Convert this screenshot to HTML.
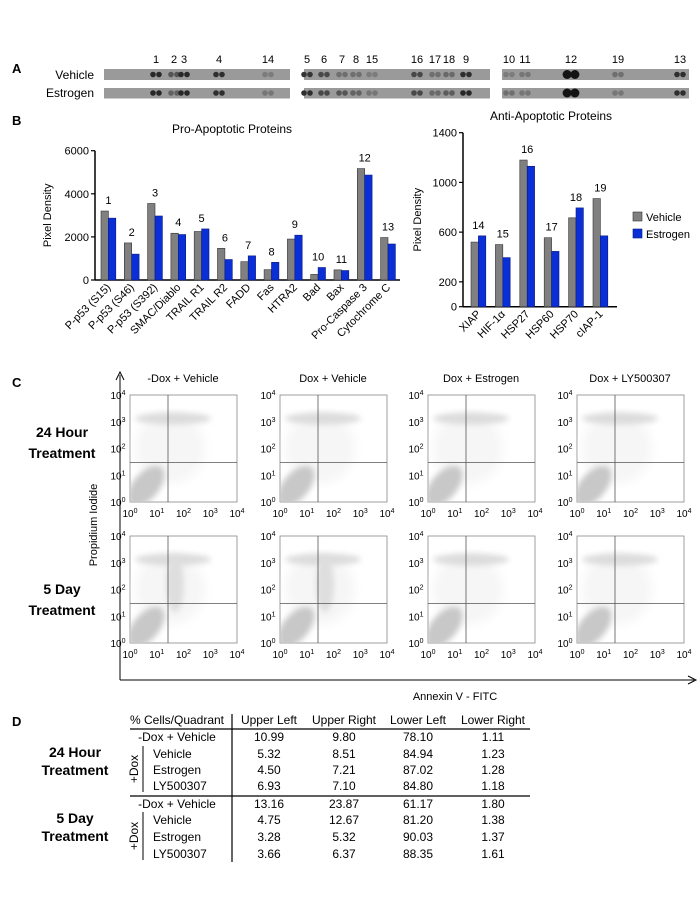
<!DOCTYPE html>
<html><head><meta charset="utf-8"><style>
body{margin:0;background:#fff}
svg{display:block;font-family:"Liberation Sans",Arial,sans-serif}
</style></head><body>
<svg id="fig" width="700" height="906" viewBox="0 0 700 906" xmlns="http://www.w3.org/2000/svg">
<defs>
<filter id="blur3" x="-50%" y="-50%" width="200%" height="200%"><feGaussianBlur stdDeviation="3"/></filter>
<filter id="blur5" x="-50%" y="-50%" width="200%" height="200%"><feGaussianBlur stdDeviation="5"/></filter>
</defs>
<g font-weight="bold" font-size="13">
<text x="12" y="73">A</text>
<text x="12" y="125">B</text>
<text x="12" y="387">C</text>
<text x="12" y="726">D</text>
</g>
<g id="panelA"></g>
<g id="chartL"></g>
<g id="chartR"></g>
<g id="flow"></g>
<g id="table"></g>
</svg>
<script>
const NS="http://www.w3.org/2000/svg";
function el(tag,attrs,parent,txt){const e=document.createElementNS(NS,tag);for(const k in attrs)e.setAttribute(k,attrs[k]);if(txt!==undefined)e.textContent=txt;parent.appendChild(e);return e;}

// ---------- Panel B data ----------
const proCats=["P-p53 (S15)","P-p53 (S46)","P-p53 (S392)","SMAC/Diablo","TRAIL R1","TRAIL R2","FADD","Fas","HTRA2","Bad","Bax","Pro-Caspase 3","Cytochrome C"];
const proNums=["1","2","3","4","5","6","7","8","9","10","11","12","13"];
const proVehicle=[3200,1720,3550,2170,2250,1470,850,480,1900,260,470,5170,1970];
const proEstrogen=[2870,1200,2970,2110,2370,950,1120,820,2080,580,440,4870,1670];
const proTicks=[0,2000,4000,6000];
const antiCats=["XIAP","HIF-1\u03b1","HSP27","HSP60","HSP70","cIAP-1"];
const antiNums=["14","15","16","17","18","19"];
const antiVehicle=[520,500,1180,555,715,870];
const antiEstrogen=[570,395,1130,445,795,570];
const antiTicks=[0,200,600,1000,1400];

function barChart(g,cfg){
  const {x0,x1,yTop,yBot,max,cats,nums,v,e,ticks,first,step,bw,title,titleX}=cfg;
  const y=val=>yBot-(val/max)*(yBot-yTop);
  el("text",{x:titleX,y:cfg.titleY,"font-size":"12","text-anchor":"middle",},g,title);
  el("line",{x1:x0,y1:yTop,x2:x0,y2:yBot,stroke:"#000","stroke-width":"1.5"},g);
  el("line",{x1:x0,y1:yBot,x2:x1,y2:yBot,stroke:"#000","stroke-width":"1.5"},g);
  ticks.forEach(t=>{
    el("line",{x1:x0-4,y1:y(t),x2:x0,y2:y(t),stroke:"#000","stroke-width":"1.2"},g);
    const tl=el("text",{x:x0-6,y:y(t)+4,"font-size":"11","text-anchor":"end"},g,String(t));
    
    
  });
  const yl=el("text",{transform:`translate(${cfg.ylabX},${(yTop+yBot)/2}) rotate(-90)`,"font-size":"11","text-anchor":"middle"},g,"Pixel Density");
  
  
  cats.forEach((c,i)=>{
    const bx=first+i*step;
    const r1=el("rect",{x:bx,y:y(v[i]),width:bw,height:yBot-y(v[i]),fill:"#808080",stroke:"#333","stroke-width":"0.6"},g);
    
    
    const r2=el("rect",{x:bx+bw,y:y(e[i]),width:bw,height:yBot-y(e[i]),fill:"#0a2fd6",stroke:"#0a1a80","stroke-width":"0.6"},g);
    
    
    const top=Math.min(y(v[i]),y(e[i]));
    const nl=el("text",{x:bx+bw,y:top-7,"font-size":"11","text-anchor":"middle"},g,nums[i]);
    
    
    const cx=bx+bw+3, cy=yBot+8;
    const cl=el("text",{transform:`translate(${cx},${cy}) rotate(-45)`,"font-size":"11","text-anchor":"end"},g,c);
    
    
  });
}
barChart(document.getElementById("chartL"),{x0:95,x1:400,yTop:150.7,yBot:280,max:6000,cats:proCats,nums:proNums,v:proVehicle,e:proEstrogen,ticks:proTicks,first:101,step:23.3,bw:7.4,title:"Pro-Apoptotic Proteins",titleX:232,titleY:133,ylabX:51});
barChart(document.getElementById("chartR"),{x0:463,x1:617,yTop:132.7,yBot:306.7,max:1400,cats:antiCats,nums:antiNums,v:antiVehicle,e:antiEstrogen,ticks:antiTicks,first:471,step:24.4,bw:7.4,title:"Anti-Apoptotic Proteins",titleX:551,titleY:120,ylabX:421});
(function(){const g=document.getElementById("chartR");
const l1=el("rect",{x:633,y:212,width:9,height:9,fill:"#808080",stroke:"#333","stroke-width":"0.6"},g);

el("text",{x:646,y:221,"font-size":"11",},g,"Vehicle");
const l2=el("rect",{x:633,y:229,width:9,height:9,fill:"#0a2fd6",stroke:"#0a1a80","stroke-width":"0.6"},g);

el("text",{x:646,y:238,"font-size":"11",},g,"Estrogen");
})();

// ---------- Panel A ----------
const blotNums=["1","2","3","4","14","5","6","7","8","15","16","17","18","9","10","11","12","19","13"];
const blotX=[156,174,184,219,268,307,324,342,356,372,417,435,449,466,509,525,571,618,680];
const blotDarkV=[0.85,0.5,0.85,0.8,0.2,0.75,0.6,0.3,0.3,0.2,0.6,0.3,0.35,0.8,0.2,0.25,1,0.3,0.8];
const blotDarkE=[0.85,0.4,0.85,0.8,0.25,0.8,0.6,0.5,0.4,0.25,0.6,0.35,0.45,0.85,0.3,0.25,1,0.25,0.8];
(function(){const g=document.getElementById("panelA");
el("text",{x:94,y:79,"font-size":"12","text-anchor":"end"},g,"Vehicle");
el("text",{x:94,y:97,"font-size":"12","text-anchor":"end"},g,"Estrogen");
[[104,290],[304,490],[502,689]].forEach(s=>{
  [[69,11],[88,10.5]].forEach(r=>{const st=el("rect",{x:s[0],y:r[0],width:s[1]-s[0],height:r[1],fill:"#9a9a9a"},g);
  });
});
blotX.forEach((x,i)=>{
  el("text",{x:x,y:63,"font-size":"11","text-anchor":"middle"},g,blotNums[i]);
  const big=blotNums[i]==="12";
  [[74.5,blotDarkV[i]],[93,blotDarkE[i]]].forEach(r=>{
    const c=Math.round(150-130*r[1]);
    [-3,3].forEach(dx=>{
      const d=el("circle",{cx:x+(big?dx*1.3:dx),cy:r[0],r:big?4.5:2.8,fill:`rgb(${c},${c},${c})`},g);
      
    });
  });
});
})();

// ---------- Panel C ----------
const flowCols=["-Dox + Vehicle","Dox + Vehicle","Dox + Estrogen","Dox + LY500307"];
const flowX=[130,280,428,577];
const flowRowsY=[395,536];
(function(){const g=document.getElementById("flow");
el("line",{x1:120,y1:375,x2:120,y2:680,stroke:"#000","stroke-width":"1"},g);
el("path",{d:"M116,380 L120,372 L124,380",fill:"none",stroke:"#000"},g);
el("line",{x1:120,y1:680,x2:694,y2:680,stroke:"#000","stroke-width":"1"},g);
el("path",{d:"M688,676 L696,680 L688,684",fill:"none",stroke:"#000"},g);
el("text",{x:455,y:700,"font-size":"11","text-anchor":"middle",},g,"Annexin V - FITC");
el("text",{transform:"translate(97,525) rotate(-90)","font-size":"11","text-anchor":"middle",},g,"Propidium Iodide");
[["24 Hour",437],["Treatment",458],["5 Day",594],["Treatment",615]].forEach(t=>el("text",{x:62,y:t[1],"font-size":"14","font-weight":"bold","text-anchor":"middle"},g,t[0]));
flowCols.forEach((c,i)=>el("text",{x:flowX[i]+53,y:382,"font-size":"11","text-anchor":"middle"},g,c));
const w=107,h=107;
flowRowsY.forEach((y0,ri)=>flowX.forEach((x0,ci)=>{
  const p=el("g",{},g);
  
  
  el("rect",{x:x0,y:y0,width:w,height:h,fill:"#fff",stroke:"#888","stroke-width":"0.8"},p);
  const cp="clip"+ri+ci;
  const cl=el("clipPath",{id:cp},p);el("rect",{x:x0,y:y0,width:w,height:h},cl);
  const dots=el("g",{"clip-path":`url(#${cp})`},p);
  el("ellipse",{cx:x0+40,cy:y0+h*0.5,rx:35,ry:35,fill:"#f6f6f6",filter:"url(#blur5)"},dots);
  el("ellipse",{cx:x0+43,cy:y0+h*0.22,rx:38,ry:6,fill:"#dcdcdc",filter:"url(#blur3)"},dots);
  if(ri===1&&ci<2) el("ellipse",{cx:x0+45,cy:y0+h*0.45,rx:9,ry:28,fill:"#dedede",filter:"url(#blur3)"},dots);
  el("ellipse",{cx:x0+16,cy:y0+h-16,rx:13,ry:24,fill:"#c8c8c8",filter:"url(#blur3)",transform:`rotate(40 ${x0+16} ${y0+h-16})`},dots);
  el("line",{x1:x0+38,y1:y0,x2:x0+38,y2:y0+h,stroke:"#555","stroke-width":"0.8"},p);
  el("line",{x1:x0,y1:y0+h*0.63,x2:x0+w,y2:y0+h*0.63,stroke:"#555","stroke-width":"0.8"},p);
  for(let k=0;k<=4;k++){
    const yt=y0+h-k*h/4;
    const t=el("text",{x:x0-12,y:yt+4,"font-size":"10","text-anchor":"middle"},p);
    el("tspan",{},t,"10");el("tspan",{dy:"-4","font-size":"7"},t,String(k));
    const xt=x0+k*w/4;
    const t2=el("text",{x:xt,y:y0+h+15,"font-size":"10","text-anchor":"middle"},p);
    el("tspan",{},t2,"10");el("tspan",{dy:"-4","font-size":"7"},t2,String(k));
  }
}));
})();

// ---------- Panel D ----------
const tHead=["% Cells/Quadrant","Upper Left","Upper Right","Lower Left","Lower Right"];
const tLabels=["-Dox + Vehicle","Vehicle","Estrogen","LY500307","-Dox + Vehicle","Vehicle","Estrogen","LY500307"];
const tUL=["10.99","5.32","4.50","6.93","13.16","4.75","3.28","3.66"];
const tUR=["9.80","8.51","7.21","7.10","23.87","12.67","5.32","6.37"];
const tLL=["78.10","84.94","87.02","84.80","61.17","81.20","90.03","88.35"];
const tLR=["1.11","1.23","1.28","1.18","1.80","1.38","1.37","1.61"];
(function(){const g=document.getElementById("table");
const colX=[177,269,344,418,493];
tHead.forEach((h,i)=>el("text",{x:colX[i],y:724,"font-size":"12","text-anchor":"middle"},g,h));
el("line",{x1:130,y1:729,x2:530,y2:729,stroke:"#000","stroke-width":"1.2"},g);
el("line",{x1:130,y1:796,x2:530,y2:796,stroke:"#000","stroke-width":"1.2"},g);
el("line",{x1:232,y1:714,x2:232,y2:862,stroke:"#000","stroke-width":"1.2"},g);
const rowY=[741,758,774,790,808,824,841,858];
tLabels.forEach((l,i)=>{
  const dox=(i%4===0);
  el("text",{x:dox?177:153,y:rowY[i],"font-size":"12","text-anchor":dox?"middle":"start"},g,l);
  [tUL,tUR,tLL,tLR].forEach((arr,c)=>el("text",{x:colX[c+1],y:rowY[i],"font-size":"12","text-anchor":"middle"},g,arr[i]));
});
el("line",{x1:143,y1:746,x2:143,y2:792,stroke:"#000"},g);
el("line",{x1:143,y1:812,x2:143,y2:860,stroke:"#000"},g);
el("text",{transform:"translate(138,769) rotate(-90)","font-size":"12","text-anchor":"middle"},g,"+Dox");
el("text",{transform:"translate(138,836) rotate(-90)","font-size":"12","text-anchor":"middle"},g,"+Dox");
[["24 Hour",757],["Treatment",775],["5 Day",823],["Treatment",841]].forEach(t=>el("text",{x:75,y:t[1],"font-size":"14","font-weight":"bold","text-anchor":"middle"},g,t[0]));
})();
</script>
</body></html>
